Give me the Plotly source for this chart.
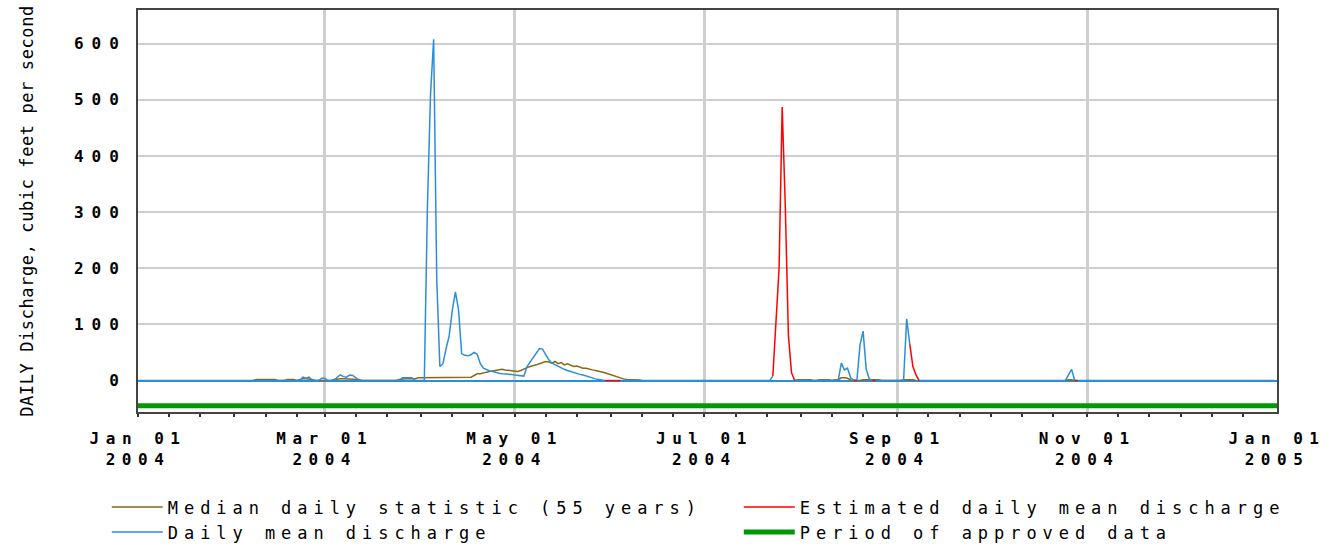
import json
import pandas as pd
import plotly.graph_objects as go

# ---------------- data ----------------
YEAR_DAYS = pd.date_range("2004-01-01", "2004-12-31", freq="D")

# Daily mean discharge (cfs): runoff events; all other days read 0 on the chart
daily_mean_events = [
    ("2004-02-22", [0, 6, 4, 6, 0]),
    ("2004-02-28", [0, 4, 4, 0]),
    ("2004-03-04", [0, 6, 10, 7, 6, 10, 9, 5, 0]),
    ("2004-03-25", [0, 5, 5, 5, 5, 0]),
    ("2004-04-02", [0, 310, 510, 608, 180, 25, 30, 57, 80, 125, 158, 126,
                    48, 45, 44, 46, 50, 47, 30, 22, 19, 17, 16, 14, 13, 12,
                    12, 12, 11, 10, 9, 9, 8, 25, 33, 40, 50, 57, 56, 46, 37,
                    31, 28, 25, 22, 20, 18, 16, 14, 12, 11, 10, 8, 7, 5, 3,
                    2, 1, 0]),
    ("2004-07-22", [0, 8]),
    ("2004-08-13", [0, 31, 19, 22, 5, 0, 0, 63, 88, 20, 3, 0]),
    ("2004-09-03", [0, 110, 65]),
    ("2004-10-25", [0, 10, 20, 0]),
]
# days on which only the estimated record is drawn
daily_mean_gaps = [
    ("2004-05-31", "2004-06-03"),
    ("2004-07-24", "2004-07-29"),
    ("2004-09-06", "2004-09-07"),
]

# Estimated daily mean discharge (cfs)
estimated_segments = [
    ("2004-05-30", [0, 0, 0, 0, 0, 0]),
    ("2004-07-23", [8, 111, 200, 487, 310, 80, 14, 0]),
    ("2004-08-18", [0, 0]),
    ("2004-08-24", [0, 0]),
    ("2004-09-05", [65, 25, 10, 0]),
    ("2004-10-28", [0, 0]),
]

# Median daily statistic (55 years), cfs
median_segments = [
    ("2004-02-07", [0, 2, 2, 2, 2, 2, 2, 2, 0, 0, 0,
                    2, 2, 2, 0, 2, 3, 3, 3, 2, 0, 0, 0, 0, 0, 0,
                    2, 3, 3, 3, 3, 3, 3, 3, 2,
                    0, 0, 0, 0, 0, 0, 0, 0, 0, 0, 0, 0,
                    2, 3, 3, 3, 3, 3, 5, 5, 5,
                    6, 6, 6, 6, 6, 6, 6, 6, 6, 6, 6, 6, 6, 6, 6,
                    9, 12, 12, 14, 15, 16, 17, 18, 20, 20, 19, 18, 17, 16,
                    16, 18, 21, 23, 25, 26, 28, 30, 32, 34, 33, 31, 34, 30,
                    32, 28, 30, 27, 25, 26, 24, 22, 22, 20, 19, 18, 17, 16,
                    14, 12, 10, 8, 6, 4, 3, 2, 2, 2, 1, 1, 0]),
    ("2004-07-30", [0, 1.5, 1.5, 1.5, 1.5, 1.5, 0, 0, 1.5, 1.5, 1.5, 1.5,
                    0, 1.5, 1.5, 5, 5, 4, 1, 0, 0, 0,
                    1.5, 1.5, 1.5, 1.5, 1.5, 1.5, 0, 0, 0, 0, 0, 0, 0,
                    1.5, 1.5, 1.5, 1.5, 0]),
    ("2004-10-25", [0, 1.5, 1.5, 0]),
]

approved_period = ["2004-01-01", "2005-01-01"]

x_tick_dates = ["2004-01-01", "2004-03-01", "2004-05-01", "2004-07-01",
                "2004-09-01", "2004-11-01", "2005-01-01"]
x_tick_labels = ["Jan 01<br>2004", "Mar 01<br>2004", "May 01<br>2004",
                 "Jul 01<br>2004", "Sep 01<br>2004", "Nov 01<br>2004",
                 "Jan 01<br>2005"]
y_tick_values = [0, 100, 200, 300, 400, 500, 600]

# ---------------- build series ----------------
def series(segments, base):
    s = pd.Series(base, index=YEAR_DAYS, dtype="object")
    for start, vals in segments:
        idx = pd.date_range(start, periods=len(vals), freq="D")
        s.loc[idx] = vals
    return s

daily_mean = series(daily_mean_events, 0)
for a, b in daily_mean_gaps:
    daily_mean.loc[a:b] = None
estimated = series(estimated_segments, None)
median = series(median_segments, None)

BLUE = "#2a8fd8"
RED = "#ff0000"
BROWN = "#8b6914"
GREEN = "#009a00"
APPROVED_LEVEL = -45

fig = go.Figure()
fig.add_trace(go.Scatter(x=approved_period, y=[APPROVED_LEVEL] * 2, mode="lines",
                         line=dict(color=GREEN, width=5),
                         name="Period of approved data", legendrank=4))
fig.add_trace(go.Scatter(x=YEAR_DAYS, y=median.tolist(), mode="lines",
                         line=dict(color=BROWN, width=1.5),
                         name="Median daily statistic (55 years)", legendrank=1))
fig.add_trace(go.Scatter(x=YEAR_DAYS, y=daily_mean.tolist(), mode="lines",
                         line=dict(color=BLUE, width=1.5),
                         name="Daily mean discharge", legendrank=3))
fig.add_trace(go.Scatter(x=YEAR_DAYS, y=estimated.tolist(), mode="lines",
                         line=dict(color=RED, width=1.5),
                         name="Estimated daily mean discharge", legendrank=2))

# dekad (1st, 11th, 21st) minor tick positions
minor_ticks = [d for d in pd.date_range("2004-01-01", "2004-12-31") if d.day in (1, 11, 21)]

FONT = "DejaVu Sans Mono"
tickfont = dict(family=FONT, size=16, color="black", weight="bold")

fig.update_layout(
    width=1338, height=544,
    margin=dict(l=138, r=61, t=10, b=132, autoexpand=False),
    paper_bgcolor="white", plot_bgcolor="white",
    font=dict(family=FONT, color="black"),
    showlegend=True,
    legend=dict(orientation="h", x=-0.0274, y=-0.1925, xanchor="left", yanchor="top",
                entrywidth=566, entrywidthmode="pixels", itemwidth=51,
                font=dict(family=FONT, size=17, color="black"),
                bgcolor="rgba(0,0,0,0)", traceorder="normal"),
    xaxis=dict(type="date", range=["2004-01-01", "2005-01-01"],
               tickmode="array", tickvals=x_tick_dates, ticktext=x_tick_labels,
               tickfont=tickfont, ticks="", ticklabelstandoff=11,
               showgrid=True, gridcolor="#cfcfcf", gridwidth=3,
               showline=True, linecolor="#444444", linewidth=2, mirror=True,
               zeroline=False,
               minor=dict(tickmode="array", tickvals=minor_ticks, ticks="outside",
                          ticklen=3, tickwidth=2, tickcolor="#333333", showgrid=False)),
    yaxis=dict(range=[-56, 660], tickmode="array", tickvals=y_tick_values,
               tickfont=tickfont, ticks="", ticklabelstandoff=6,
               showgrid=True, gridcolor="#cfcfcf", gridwidth=2,
               zeroline=True, zerolinecolor=BLUE, zerolinewidth=1.5,
               showline=True, linecolor="#444444", linewidth=2, mirror=True,
               title=dict(text="DAILY Discharge, cubic feet per second",
                          font=dict(family=FONT, size=17, color="black"),
                          standoff=60)),
)

css = ("body{margin:0}"
       ".xtick text{letter-spacing:6.5px}"
       ".ytick text{letter-spacing:8px}"
       ".legendtext{letter-spacing:5.95px}"
       ".ytitle{letter-spacing:0.6px}")
post = ("var s=document.createElement('style');s.textContent=" + json.dumps(css) +
        ";document.head.appendChild(s);")
fig.write_html("out.html", post_script=post, config={"displayModeBar": False})
